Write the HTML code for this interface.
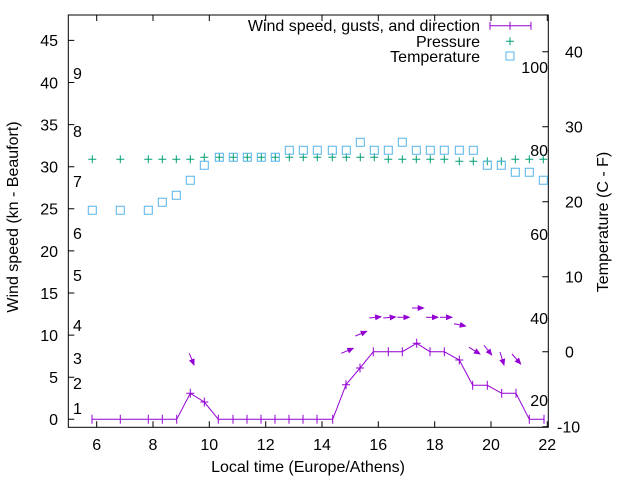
<!DOCTYPE html>
<html><head><meta charset="utf-8"><style>
html,body{margin:0;padding:0;background:#fff}
svg{display:block}
text{font-family:"Liberation Sans",Arial,sans-serif;font-size:16px;fill:#000}
</style></head><body>
<svg width="640" height="480" viewBox="0 0 640 480" xmlns="http://www.w3.org/2000/svg">
<defs>
<marker id="ah" markerWidth="8" markerHeight="8" refX="6" refY="3" orient="auto" markerUnits="userSpaceOnUse">
<path d="M0,0 L7,3 L0,6 Z" fill="#9400d3"/>
</marker>
</defs>
<rect x="68.3" y="15" width="480" height="412.3" fill="none" stroke="#000" stroke-width="1"/>
<g stroke="#000" stroke-width="1">
<path d="M96.7,427.3v-6M96.7,15v6M153,427.3v-6M153,15v6M209.3,427.3v-6M209.3,15v6M265.7,427.3v-6M265.7,15v6M322,427.3v-6M322,15v6M378.3,427.3v-6M378.3,15v6M434.7,427.3v-6M434.7,15v6M491,427.3v-6M491,15v6M547.3,427.3v-6M547.3,15v6"/>
<path d="M68.3,419.3h6M68.3,377.2h6M68.3,335.1h6M68.3,293h6M68.3,250.9h6M68.3,208.8h6M68.3,166.7h6M68.3,124.6h6M68.3,82.5h6M68.3,40.4h6"/>
<path d="M548.3,426.7h-6M548.3,351.7h-6M548.3,276.7h-6M548.3,201.7h-6M548.3,126.7h-6M548.3,51.7h-6"/>
</g>
<g text-anchor="middle">
<text x="96.7" y="450">6</text><text x="153" y="450">8</text><text x="209.3" y="450">10</text><text x="265.7" y="450">12</text><text x="322" y="450">14</text><text x="378.3" y="450">16</text><text x="434.7" y="450">18</text><text x="491" y="450">20</text><text x="547.3" y="450">22</text>
<text x="308" y="472">Local time (Europe/Athens)</text>
</g>
<g text-anchor="end">
<text x="58" y="425">0</text><text x="58" y="383">5</text><text x="58" y="341">10</text><text x="58" y="299">15</text><text x="58" y="257">20</text><text x="58" y="214.5">25</text><text x="58" y="172.5">30</text><text x="58" y="130.5">35</text><text x="58" y="88.5">40</text><text x="58" y="46">45</text>
</g>
<text transform="translate(18,217) rotate(-90)" text-anchor="middle">Wind speed (kn - Beaufort)</text>
<g>
<text x="73" y="414">1</text><text x="73" y="389">2</text><text x="73" y="364">3</text><text x="73" y="331">4</text><text x="73" y="281">5</text><text x="73" y="239">6</text><text x="73" y="187">7</text><text x="73" y="137">8</text><text x="73" y="79">9</text>
</g>
<g>
<text x="557" y="432.5">-10</text><text x="565" y="357.5">0</text><text x="565" y="282.5">10</text><text x="565" y="207.5">20</text><text x="565" y="132.5">30</text><text x="565" y="57.5">40</text>
</g>
<text transform="translate(608,222) rotate(-90)" text-anchor="middle">Temperature (C - F)</text>
<g text-anchor="end">
<text x="548" y="73">100</text><text x="548" y="156">80</text><text x="548" y="240">60</text><text x="548" y="324">40</text><text x="548" y="406">20</text>
</g>
<g text-anchor="end">
<text x="480" y="31">Wind speed, gusts, and direction</text>
<text x="480" y="47">Pressure</text>
<text x="480" y="62">Temperature</text>
</g>
<g stroke="#9400d3" stroke-width="1" fill="none">
<path d="M490,25.7h41M490,21.7v8M531,21.7v8M510,21.7v8"/>
</g>
<path d="M506,41.3h8M510,37.3v8" stroke="#009e73" stroke-width="1"/>
<rect x="506" y="52" width="8" height="8" fill="none" stroke="#56b4e9" stroke-width="1"/>
<!-- pressure -->
<path stroke="#009e73" stroke-width="1" fill="none" d="
M88.3,159.3h8M92.3,155.3v8 M116.3,159.3h8M120.3,155.3v8 M144.3,159.3h8M148.3,155.3v8 M158.3,159.3h8M162.3,155.3v8 M172.3,159.3h8M176.3,155.3v8 M186.3,159.3h8M190.3,155.3v8
M200.3,157.3h8M204.3,153.3v8 M215.3,157.3h8M219.3,153.3v8 M229.3,157.3h8M233.3,153.3v8 M243.3,157.3h8M247.3,153.3v8 M257.3,157.3h8M261.3,153.3v8 M271.3,157.3h8M275.3,153.3v8 M285.3,157.3h8M289.3,153.3v8 M299.3,157.3h8M303.3,153.3v8 M313.3,157.3h8M317.3,153.3v8 M328.3,157.3h8M332.3,153.3v8 M342.3,157.3h8M346.3,153.3v8 M356.3,157.3h8M360.3,153.3v8 M370.3,157.3h8M374.3,153.3v8
M384.3,159.3h8M388.3,155.3v8 M398.3,159.3h8M402.3,155.3v8 M412.3,159.3h8M416.3,155.3v8 M426.3,159.3h8M430.3,155.3v8 M440.3,159.3h8M444.3,155.3v8
M455.3,161.3h8M459.3,157.3v8 M469.3,161.3h8M473.3,157.3v8 M483.3,161.3h8M487.3,157.3v8 M497.3,161.3h8M501.3,157.3v8
M511.3,159.3h8M515.3,155.3v8 M525.3,159.3h8M529.3,155.3v8 M539.3,159.3h8M543.3,155.3v8"/>
<!-- temperature -->
<path stroke="#56b4e9" stroke-width="1" fill="none" d="
M88.3,206.3h8v8h-8z M116.3,206.3h8v8h-8z M144.3,206.3h8v8h-8z M158.3,198.3h8v8h-8z M172.3,191.3h8v8h-8z M186.3,176.3h8v8h-8z M200.3,161.3h8v8h-8z
M215.3,153.3h8v8h-8z M229.3,153.3h8v8h-8z M243.3,153.3h8v8h-8z M257.3,153.3h8v8h-8z M271.3,153.3h8v8h-8z
M285.3,146.3h8v8h-8z M299.3,146.3h8v8h-8z M313.3,146.3h8v8h-8z M328.3,146.3h8v8h-8z M342.3,146.3h8v8h-8z
M356.3,138.3h8v8h-8z M370.3,146.3h8v8h-8z M384.3,146.3h8v8h-8z M398.3,138.3h8v8h-8z M412.3,146.3h8v8h-8z M426.3,146.3h8v8h-8z M440.3,146.3h8v8h-8z M455.3,146.3h8v8h-8z M469.3,146.3h8v8h-8z
M483.3,161.3h8v8h-8z M497.3,161.3h8v8h-8z M511.3,168.3h8v8h-8z M525.3,168.3h8v8h-8z M539.3,176.3h8v8h-8z"/>
<!-- wind -->
<path stroke="#9400d3" stroke-width="1" fill="none" d="M92,419.3L120.3,419.3L148.3,419.3L162.3,419.3L176.7,419.3L190.3,393.3L204.3,402L218.3,419.3L332.7,419.3L346,384.7L360,368L373.3,351.7L402.3,351.7L416.7,343.3L430,351.7L444.3,351.7L459.3,360L472.7,385.3L487.3,385.3L501.7,393.3L516,393.3L529.3,419.3L544,419.3
M92,414.8v9M120.3,414.8v9M148.3,414.8v9M162.3,414.8v9M176.7,414.8v9M218.3,414.8v9M233,414.8v9M247,414.8v9M261,414.8v9M275,414.8v9M289,414.8v9M303,414.8v9M317,414.8v9M332.7,414.8v9M529.3,414.8v9M544,414.8v9
M190.3,388.8v9M186.3,393.3h8 M204.3,397.5v9M200.3,402h8 M346,380.2v9M342,384.7h8 M360,363.5v9M356,368h8 M373.3,347.2v9 M388.3,347.2v9 M402.3,347.2v9 M416.7,338.8v9M412.7,343.3h8 M430,347.2v9 M444.3,347.2v9 M459.3,355.5v9M455.3,360h8 M472.7,380.8v9 M487.3,380.8v9 M501.7,388.8v9 M516,388.8v9"/>
<g stroke="#9400d3" stroke-width="1" fill="none" marker-end="url(#ah)">
<path d="M189.3,353.3L194,365"/>
<path d="M341.3,353.3L353.3,348.3"/>
<path d="M355.3,336L366.7,331.3"/>
<path d="M369.3,318L381,316.7"/>
<path d="M383.3,318L395.7,317"/>
<path d="M397.3,317.3L409.3,317.3"/>
<path d="M412,308L423.7,308"/>
<path d="M426,317.3L438,317.3"/>
<path d="M440,317.3L452,317.3"/>
<path d="M454,323.7L465.7,326"/>
<path d="M469,347.3L480,354"/>
<path d="M484,345.3L491.7,355"/>
<path d="M500,352L504,365"/>
<path d="M512,354L520.7,364"/>
</g>
</svg>
</body></html>
